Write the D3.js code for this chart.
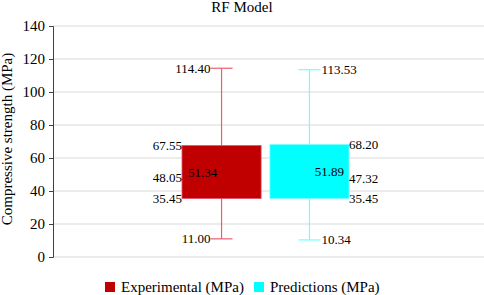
<!DOCTYPE html>
<html>
<head>
<meta charset="utf-8">
<script src="https://cdn.jsdelivr.net/npm/d3@7"></script>
<style>
  body { margin:0; background:#fff; }
  svg text { font-family:"Liberation Serif", "Times New Roman", serif; fill:#000; }
</style>
</head>
<body>
<svg id="chart" width="484" height="295"></svg>
<script>
// datos del boxplot
const categories = ["Experimental (MPa)", "Predictions (MPa)"];
const minVals    = [11.00, 10.34];
const q1Vals     = [35.45, 35.45];
const medianVals = [48.05, 47.32];
const meanVals   = [51.34, 51.89];
const q3Vals     = [67.55, 68.20];
const maxVals    = [114.40, 113.53];
const yTicks     = [0, 20, 40, 60, 80, 100, 120, 140];

const fills    = ["#C00000", "#00FFFF"];
const strokes  = ["#E0506A", "#7FFFFF"];
const whiskers = ["#EE5C6C", "#70FFFF"];

const W = 484, H = 295;
const M = { left:53, right:484, top:26, bottom:257 };

const svg = d3.select("#chart");

const y = d3.scaleLinear().domain([0, 140]).range([M.bottom, M.top]);
const x = d3.scaleBand().domain(categories).range([182, 349]).paddingInner(0.1);

// grid
svg.append("g")
  .selectAll("line")
  .data(yTicks)
  .enter().append("line")
  .attr("x1", M.left).attr("x2", M.right)
  .attr("y1", d => y(d)).attr("y2", d => y(d))
  .attr("stroke", "#D9D9D9").attr("stroke-width", 1);

// eje Y
const yAxis = svg.append("g")
  .attr("transform", `translate(${M.left},0)`)
  .call(d3.axisLeft(y).tickValues(yTicks).tickSize(4).tickPadding(4));
yAxis.select(".domain").attr("stroke", "#404040");
yAxis.selectAll(".tick line").attr("stroke", "#404040");
yAxis.selectAll(".tick text")
  .style("font-family", "'Liberation Serif', serif")
  .style("font-size", "15px")
  .attr("fill", "#000");

const rows = categories.map((c, i) => ({
  cat:c, i, min:minVals[i], q1:q1Vals[i], med:medianVals[i], mean:meanVals[i], q3:q3Vals[i], max:maxVals[i]
}));

const g = svg.append("g");
const capHalf = 11;

rows.forEach(d => {
  const cx = x(d.cat) + x.bandwidth()/2;
  // whisker
  g.append("line")
    .attr("x1", cx).attr("x2", cx)
    .attr("y1", y(d.max)).attr("y2", y(d.min))
    .attr("stroke", whiskers[d.i]).attr("stroke-width", 1.2);
  [d.max, d.min].forEach(v => {
    g.append("line")
      .attr("x1", cx - capHalf).attr("x2", cx + capHalf)
      .attr("y1", y(v)).attr("y2", y(v))
      .attr("stroke", whiskers[d.i]).attr("stroke-width", 1.2);
  });
  // caja
  g.append("rect")
    .attr("x", x(d.cat)).attr("width", x.bandwidth())
    .attr("y", y(d.q3)).attr("height", y(d.q1) - y(d.q3))
    .attr("fill", fills[d.i])
    .attr("stroke", strokes[d.i]).attr("stroke-width", 0.8);

  const left = d.i === 0;
  const fmt = v => v.toFixed(2);
  const lab = (txt, xx, yy, anchor) => g.append("text")
    .attr("x", xx).attr("y", yy).attr("dy", "0.35em")
    .attr("text-anchor", anchor)
    .style("font-size", "13px")
    .text(txt);

  // etiquetas de bigotes
  lab(fmt(d.max), left ? cx - capHalf : cx + capHalf + 1, y(d.max), left ? "end" : "start");
  lab(fmt(d.min), left ? cx - capHalf : cx + capHalf + 1, y(d.min), left ? "end" : "start");
  // cuartiles y mediana
  const ex = left ? x(d.cat) : x(d.cat) + x.bandwidth();
  const anc = left ? "end" : "start";
  lab(fmt(d.q3), ex, y(d.q3), anc);
  lab(fmt(d.med), ex, y(d.med), anc);
  lab(fmt(d.q1), ex, y(d.q1), anc);
  // media dentro de la caja
  lab(fmt(d.mean), left ? x(d.cat) + 6 : x(d.cat) + x.bandwidth() - 5, y(d.mean), left ? "start" : "end");
});

// titulo
svg.append("text")
  .attr("x", 242).attr("y", 12)
  .attr("text-anchor", "middle")
  .style("font-size", "15px")
  .text("RF Model");

// etiqueta eje Y
svg.append("text")
  .attr("transform", "translate(12,139) rotate(-90)")
  .attr("text-anchor", "middle")
  .style("font-size", "15px")
  .text("Compressive strength (MPa)");

// leyenda
const legX = [105, 254];
const leg = svg.append("g");
categories.forEach((c, i) => {
  leg.append("rect")
    .attr("x", legX[i]).attr("y", 282)
    .attr("width", 10).attr("height", 10)
    .attr("fill", fills[i]);
  leg.append("text")
    .attr("x", legX[i] + 16).attr("y", 287).attr("dy", "0.35em")
    .style("font-size", "15px")
    .text(c);
});
</script>
</body>
</html>
